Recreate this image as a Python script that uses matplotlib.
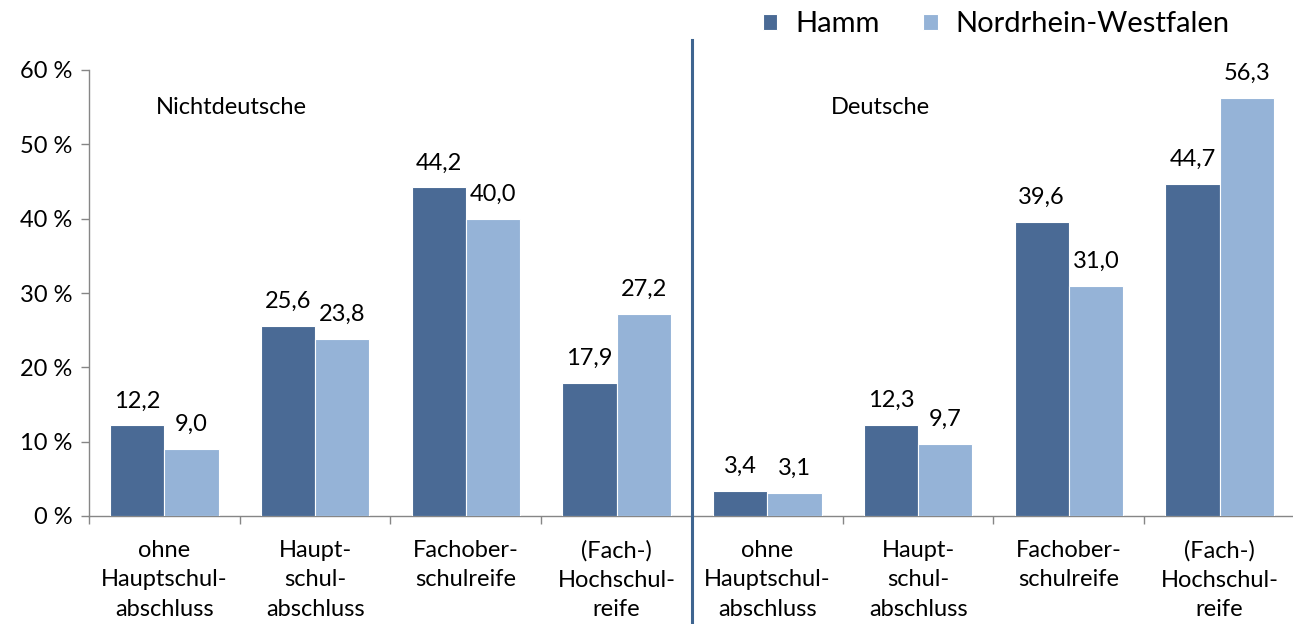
import matplotlib
matplotlib.use("Agg")
import matplotlib.pyplot as plt
from matplotlib.lines import Line2D
import numpy as np

plt.rcParams['font.family'] = ['Lato', 'DejaVu Sans']

categories = ["ohne\nHauptschul-\nabschluss", "Haupt-\nschul-\nabschluss", "Fachober-\nschulreife",
              "(Fach-)\nHochschul-\nreife"] * 2
groups = ["Nichtdeutsche", "Deutsche"]
hamm = [12.2, 25.6, 44.2, 17.9, 3.4, 12.3, 39.6, 44.7]
nrw = [9.0, 23.8, 40.0, 27.2, 3.1, 9.7, 31.0, 56.3]
series_names = ["Hamm", "Nordrhein-Westfalen"]
yticks = [0, 10, 20, 30, 40, 50, 60]

c_hamm = "#4A6A95"
c_nrw = "#95B3D7"
FS = 17

fig = plt.figure(figsize=(12.93, 6.24), dpi=100)
ax = fig.add_axes([89/1293, 108/624, 1206/1293, 446/624])

x = np.arange(len(categories))
w = 0.36
ax.bar(x - w/2, hamm, width=w, color=c_hamm, edgecolor="white", linewidth=0.8, label=series_names[0], zorder=3)
ax.bar(x + w/2, nrw, width=w, color=c_nrw, edgecolor="white", linewidth=0.8, label=series_names[1], zorder=3)

for xi, v in zip(x - w/2, hamm):
    ax.annotate(f"{v:.1f}".replace(".", ","), (xi, v), xytext=(0, 10), textcoords="offset points",
                ha="center", va="bottom", fontsize=FS)
for xi, v in zip(x + w/2, nrw):
    ax.annotate(f"{v:.1f}".replace(".", ","), (xi, v), xytext=(0, 10), textcoords="offset points",
                ha="center", va="bottom", fontsize=FS)

ax.set_xlim(-0.5, 7.5)
ax.set_ylim(0, 60)
ax.set_yticks(yticks)
ax.set_yticklabels([f"{t} %" for t in yticks], fontsize=FS)
ax.set_xticks(x)
ax.set_xticklabels(categories, fontsize=FS, linespacing=1.5)
ax.set_xticks(np.arange(-0.5, 8, 1), minor=True)
ax.tick_params(axis="x", which="major", length=0, pad=17)
ax.tick_params(axis="x", which="minor", length=6, color="#868686", width=1)
ax.tick_params(axis="y", length=6, color="#868686", width=1, pad=6)
for s in ["top", "right"]:
    ax.spines[s].set_visible(False)
for s in ["left", "bottom"]:
    ax.spines[s].set_color("#868686")
    ax.spines[s].set_linewidth(1)

# separator line
fig.add_artist(Line2D([692/1293, 692/1293], [0, 1 - 40/624], color="#3F6590", linewidth=2.2))

ax.text(0.442, 54.9, groups[0], fontsize=FS, ha="center", va="center")
ax.text(4.747, 54.9, groups[1], fontsize=FS, ha="center", va="center")

leg = fig.legend(loc="upper right", bbox_to_anchor=(0.971, 1.024), ncol=2, frameon=False, fontsize=21,
                 handlelength=0.5, handleheight=0.5, handletextpad=0.6, columnspacing=1.5)

fig.savefig("out.png", dpi=100)
